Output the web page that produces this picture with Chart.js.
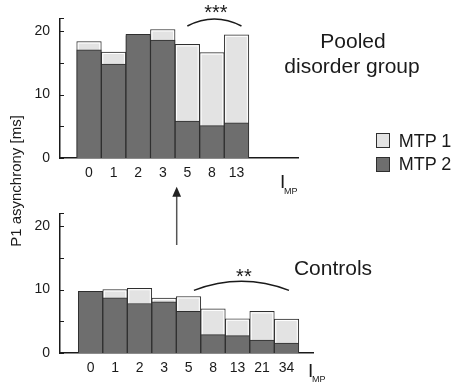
<!DOCTYPE html>
<html>
<head>
<meta charset="utf-8">
<script src="https://cdn.jsdelivr.net/npm/chart.js@4.4.0/dist/chart.umd.min.js"></script>
<style>
  body { margin: 0; background: #fff; font-family: "Liberation Sans", Arial, sans-serif; color: #1a1a1a; }
  #wrap { position: relative; width: 454px; height: 384px; overflow: hidden; }
  canvas { position: absolute; left: 0; }
  .txt { position: absolute; white-space: nowrap; line-height: 1; }
  .c { transform: translate(-50%, -50%); }
  .sq { position: absolute; width: 12px; height: 13px; border: 1.5px solid #2e2e2e; }
</style>
</head>
<body>
<div id="wrap">
  <canvas id="pooled" width="454" height="200" style="top:0"></canvas>
  <canvas id="controls" width="454" height="189" style="top:195px"></canvas>

  <div class="txt c" style="left:353px; top:40px; font-size:21px;">Pooled</div>
  <div class="txt c" style="left:352px; top:65px; font-size:21px;">disorder group</div>
  <div class="txt c" style="left:333px; top:267px; font-size:21px;">Controls</div>

  <div class="sq" style="left:376px; top:133px; background:#e3e3e3;"></div>
  <div class="txt c" style="left:425px; top:141px; font-size:18px;">MTP 1</div>
  <div class="sq" style="left:376px; top:157px; background:#6e6e6e;"></div>
  <div class="txt c" style="left:425px; top:164px; font-size:18px;">MTP 2</div>

  <div class="txt" style="left:15px; top:181px; font-size:15px; transform: translate(-50%, -50%) rotate(-90deg);">P1 asynchrony [ms]</div>

  <div class="txt" style="left:280px; top:172px; font-size:19px;">I</div>
  <div class="txt" style="left:284px; top:187px; font-size:9px;">MP</div>
  <div class="txt" style="left:308px; top:361px; font-size:19px;">I</div>
  <div class="txt" style="left:312px; top:375px; font-size:9px;">MP</div>

  <svg style="position:absolute; left:0; top:0;" width="454" height="384">
    <line x1="176.7" y1="245" x2="176.7" y2="195" stroke="#555" stroke-width="1.5"/>
    <polygon points="176.7,186.7 172.3,196.7 181.1,196.7" fill="#222"/>
  </svg>
</div>

<script>
// values (ms)
var pooledCats = ['0', '1', '2', '3', '5', '8', '13'];
var pooledMtp1 = [18.35, 16.7, 19.3, 20.25, 17.9, 16.6, 19.4];
var pooledMtp2 = [17.05, 14.8, 19.5, 18.6, 5.8, 5.1, 5.55];

var controlCats = ['0', '1', '2', '3', '5', '8', '13', '21', '34'];
var controlMtp1 = [9.5, 10.0, 10.2, 8.65, 8.9, 6.95, 5.4, 6.55, 5.35];
var controlMtp2 = [9.7, 8.7, 7.8, 8.05, 6.55, 2.9, 2.75, 2.05, 1.55];

var yLabelTicks = [0, 10, 20];

Chart.defaults.font.family = '"Liberation Sans", Arial, sans-serif';
Chart.defaults.color = '#1a1a1a';

var toXY = function(arr) {
  return arr.map(function(v, i) { return { x: i, y: v }; });
};

// small tick marks pointing into the plot
var innerTicks = {
  id: 'innerTicks',
  afterDraw: function(chart) {
    var y = chart.scales.y, ctx = chart.ctx, left = chart.chartArea.left;
    ctx.save();
    ctx.strokeStyle = '#1a1a1a';
    ctx.lineWidth = 1;
    y.ticks.forEach(function(t) {
      var py = Math.round(y.getPixelForValue(t.value)) + 0.5;
      ctx.beginPath();
      ctx.moveTo(left, py);
      ctx.lineTo(left + 4, py);
      ctx.stroke();
    });
    ctx.restore();
  }
};

// white inner edge on the light bars
var innerEdge = {
  id: 'innerEdge',
  afterDatasetDraw: function(chart, args) {
    if (chart.data.datasets[args.index].label !== 'MTP 1') return;
    var ctx = chart.ctx;
    ctx.save();
    ctx.strokeStyle = '#ffffff';
    ctx.lineWidth = 1;
    args.meta.data.forEach(function(bar) {
      var p = bar.getProps(['x', 'y', 'base', 'width'], true);
      ctx.strokeRect(p.x - p.width / 2 + 1.5, p.y + 1.5, p.width - 3, p.base - p.y - 3);
    });
    ctx.restore();
  }
};

// significance bracket with stars
var bracket = {
  id: 'bracket',
  afterDraw: function(chart, args, o) {
    var xs = chart.scales.x, ys = chart.scales.y, ctx = chart.ctx;
    var x1 = xs.getPixelForValue(o.from), x2 = xs.getPixelForValue(o.to);
    var yEnd = ys.getPixelForValue(o.endY), yTop = ys.getPixelForValue(o.topY);
    ctx.save();
    ctx.strokeStyle = '#1a1a1a';
    ctx.lineWidth = 1.5;
    ctx.beginPath();
    ctx.moveTo(x1, yEnd);
    ctx.quadraticCurveTo((x1 + x2) / 2, 2 * yTop - yEnd, x2, yEnd);
    ctx.stroke();
    ctx.fillStyle = '#1a1a1a';
    ctx.font = '20px "Liberation Sans", Arial, sans-serif';
    ctx.textAlign = 'center';
    ctx.textBaseline = 'alphabetic';
    ctx.fillText(o.stars, xs.getPixelForValue(o.starX), ys.getPixelForValue(o.starY));
    ctx.restore();
  }
};

var makeChart = function(id, cats, mtp1, mtp2, xMin, xMax, pad, xHeight, br) {
  var tickFont = { size: 14 };
  return new Chart(document.getElementById(id).getContext('2d'), {
    type: 'bar',
    data: {
      datasets: [
        { label: 'MTP 1', data: toXY(mtp1), backgroundColor: '#e3e3e3', borderColor: '#2e2e2e',
          borderWidth: 1, grouped: false, order: 2, barPercentage: 1, categoryPercentage: 1 },
        { label: 'MTP 2', data: toXY(mtp2), backgroundColor: '#6e6e6e', borderColor: '#2e2e2e',
          borderWidth: 1, grouped: false, order: 1, barPercentage: 1, categoryPercentage: 1 }
      ]
    },
    options: {
      responsive: false,
      animation: false,
      layout: { padding: pad },
      plugins: {
        legend: { display: false },
        tooltip: { enabled: false },
        bracket: br
      },
      scales: {
        x: {
          type: 'linear',
          bounds: 'data',
          offset: false,
          min: xMin,
          max: xMax,
          grid: { display: false, drawTicks: false, offset: false },
          border: { display: true, color: '#1a1a1a', width: 1.5 },
          afterBuildTicks: function(s) {
            s.ticks = cats.map(function(c, i) { return { value: i }; });
          },
          ticks: {
            autoSkip: false,
            maxRotation: 0,
            padding: 7,
            font: tickFont,
            color: '#1a1a1a',
            callback: function(v) { return cats[v]; }
          },
          afterFit: function(s) { s.height = xHeight; }
        },
        y: {
          bounds: 'data',
          min: 0,
          max: 22,
          grid: { display: false, drawTicks: false },
          border: { display: true, color: '#1a1a1a', width: 1.5 },
          ticks: {
            stepSize: 5,
            includeBounds: false,
            padding: 10,
            font: tickFont,
            color: '#1a1a1a',
            callback: function(v) { return yLabelTicks.indexOf(v) >= 0 ? v : ''; }
          },
          afterFit: function(s) { s.width = 60; }
        }
      }
    },
    plugins: [innerEdge, innerTicks, bracket]
  });
};

makeChart('pooled', pooledCats, pooledMtp1, pooledMtp2, -1.18, 8.5,
  { left: 0, top: 16.5, right: 156, bottom: 0 }, 42,
  { from: 4.0, to: 6.2, endY: 20.8, topY: 21.9, stars: '***', starX: 5.16, starY: 21.85 });

makeChart('controls', controlCats, controlMtp1, controlMtp2, -1.246, 9.08,
  { left: 0, top: 17, right: 141, bottom: 0 }, 31,
  { from: 4.22, to: 8.1, endY: 9.87, topY: 11.3, stars: '**', starX: 6.26, starY: 11.1 });
</script>
</body>
</html>
